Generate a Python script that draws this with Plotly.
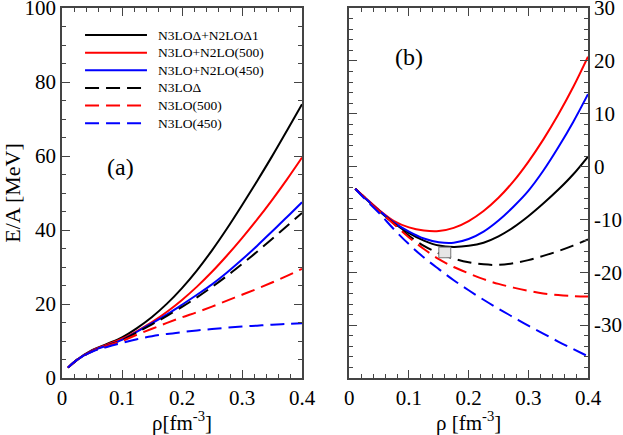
import plotly.graph_objects as go
from plotly.subplots import make_subplots

FONT = "Liberation Serif, Times New Roman, serif"
AXIS_COLOR = "#444"

# density grid [fm^-3]
rho = [0.01, 0.025, 0.05, 0.075, 0.1, 0.125, 0.15, 0.175, 0.2, 0.225,
       0.25, 0.275, 0.3, 0.325, 0.35, 0.375, 0.4]

# (a) pure neutron matter, E/A [MeV]
pnm_d_n2lod1 = [2.8, 4.9, 7.5, 9.2, 11.0, 13.5, 16.5, 20.1, 24.3, 29.1, 34.5, 40.4, 46.7, 53.2, 59.9, 66.9, 74.0]
pnm_n3lo500_n2lo = [2.8, 4.9, 7.4, 9.0, 10.6, 12.7, 15.1, 17.9, 21.1, 24.7, 28.7, 33.1, 37.8, 42.8, 48.1, 53.7, 59.6]
pnm_n3lo450_n2lo = [2.8, 4.9, 7.3, 8.8, 10.3, 12.5, 14.8, 17.2, 19.8, 22.5, 25.3, 28.5, 32.0, 35.7, 39.6, 43.5, 47.5]
pnm_d = [2.8, 4.9, 7.2, 8.7, 10.2, 12.3, 14.5, 16.8, 19.2, 21.8, 24.6, 27.6, 30.8, 34.1, 37.6, 41.1, 44.6]
pnm_n3lo500 = [2.8, 4.9, 7.2, 8.7, 10.0, 11.7, 13.3, 14.9, 16.4, 17.8, 19.3, 20.9, 22.5, 24.1, 25.8, 27.6, 29.5]
pnm_n3lo450 = [2.8, 4.9, 7.1, 8.4, 9.5, 10.5, 11.3, 11.9, 12.4, 12.85, 13.25, 13.6, 13.9, 14.15, 14.4, 14.6, 14.8]

# (b) symmetric nuclear matter, E/A [MeV]
snm_d_n2lod1 = [-4.2, -5.8, -8.4, -10.7, -12.6, -14.0, -14.95, -15.2, -15.0, -14.4, -13.2, -11.5, -9.4, -7.0, -4.4, -1.5, 1.9]
snm_n3lo500_n2lo = [-4.2, -5.7, -8.2, -10.3, -11.5, -12.1, -12.2, -11.6, -10.3, -8.4, -5.9, -2.8, 0.9, 5.1, 9.8, 15.0, 20.8]
snm_n3lo450_n2lo = [-4.2, -5.8, -8.3, -10.6, -12.3, -13.6, -14.3, -14.4, -13.7, -12.3, -10.2, -7.6, -4.6, -0.8, 3.6, 8.4, 13.7]
snm_d = [-4.2, -5.8, -8.4, -10.8, -13.1, -15.0, -16.4, -17.4, -18.1, -18.5, -18.6, -18.3, -17.7, -16.9, -16.0, -14.95, -13.8]
snm_n3lo500 = [-4.2, -5.8, -8.4, -10.9, -13.4, -15.6, -17.5, -19.0, -20.2, -21.3, -22.2, -22.9, -23.5, -24.0, -24.3, -24.5, -24.6]
snm_n3lo450 = [-4.2, -6.0, -8.8, -11.9, -14.7, -17.2, -19.4, -21.5, -23.4, -25.2, -26.9, -28.5, -30.1, -31.6, -33.1, -34.5, -35.9]

# empirical saturation region
rho_sat, rho_sat_err = 0.16, 0.01
e_sat, e_sat_err = -16.25, 1.0

names = ["N3LOΔ+N2LOΔ1", "N3LO+N2LO(500)", "N3LO+N2LO(450)",
         "N3LOΔ", "N3LO(500)", "N3LO(450)"]
colors = ["black", "#ff0000", "#0000ff", "black", "#ff0000", "#0000ff"]
dashes = ["solid", "solid", "solid", "14px,7px", "14px,7px", "14px,7px"]

pnm = [pnm_d_n2lod1, pnm_n3lo500_n2lo, pnm_n3lo450_n2lo, pnm_d, pnm_n3lo500, pnm_n3lo450]
snm = [snm_d_n2lod1, snm_n3lo500_n2lo, snm_n3lo450_n2lo, snm_d, snm_n3lo500, snm_n3lo450]

x_ticks = [0, 0.1, 0.2, 0.3, 0.4]
x_ticktext = ["0", "0.1", "0.2", "0.3", "0.4"]
ya_ticks = [0, 20, 40, 60, 80, 100]
yb_ticks = [-30, -20, -10, 0, 10, 20, 30]
yb_ticktext = ["-30", "-20", "-10", "0", "10", "20", "30"]

fig = make_subplots(rows=1, cols=2, horizontal_spacing=0.09)

for i, name in enumerate(names):
    line = dict(color=colors[i], width=2, dash=dashes[i], shape="spline")
    fig.add_trace(go.Scatter(x=rho, y=pnm[i], mode="lines", name=name, line=line,
                             showlegend=False), row=1, col=1)
    fig.add_trace(go.Scatter(x=rho, y=snm[i], mode="lines", name=name, line=line,
                             showlegend=False), row=1, col=2)

fig.add_shape(type="rect", xref="x2", yref="y2",
              x0=rho_sat - rho_sat_err, x1=rho_sat + rho_sat_err,
              y0=e_sat - e_sat_err, y1=e_sat + e_sat_err,
              fillcolor="#e6e6e6", line=dict(color="#777", width=1), layer="above")

# legend drawn by hand inside panel (a), xmgrace style
leg_top, leg_step = 0.927, 0.0477
annotations = []
for i, name in enumerate(names):
    yy = leg_top - i * leg_step
    fig.add_shape(type="line", xref="x domain", yref="y domain",
                  x0=0.096, x1=0.354, y0=yy, y1=yy,
                  line=dict(color=colors[i], width=2, dash=dashes[i]))
    annotations.append(dict(text=name, xref="x domain", yref="y domain", x=0.39, y=yy,
                            xanchor="left", yanchor="middle", showarrow=False,
                            font=dict(family=FONT, size=13.5, color="black")))

annotations += [
    dict(text="(a)", x=0.098, y=57, xref="x", yref="y", showarrow=False,
         font=dict(family=FONT, size=24)),
    dict(text="(b)", x=0.1, y=20.7, xref="x2", yref="y2", showarrow=False,
         font=dict(family=FONT, size=24)),
]

axis_common = dict(showline=True, linecolor=AXIS_COLOR, linewidth=1.5, mirror="allticks",
                   ticks="inside", ticklen=8, tickwidth=1.2, tickcolor=AXIS_COLOR,
                   showgrid=False, zeroline=False, automargin=False,
                   ticklabeloverflow="allow",
                   tickfont=dict(family=FONT, size=21, color="black"))

xa = dict(axis_common, range=[0, 0.4], tickmode="array", tickvals=x_ticks, ticktext=x_ticktext,
          minor=dict(dtick=0.02, tick0=0, ticks="inside", ticklen=4, tickcolor=AXIS_COLOR))
fig.update_xaxes(xa, row=1, col=1)
fig.update_xaxes(xa, row=1, col=2)
fig.update_xaxes(title=dict(text="ρ[fm<sup>-3</sup>]", font=dict(family=FONT, size=21), standoff=2),
                 row=1, col=1)
fig.update_xaxes(title=dict(text="ρ [fm<sup>-3</sup>]", font=dict(family=FONT, size=21), standoff=2),
                 row=1, col=2)

fig.update_yaxes(axis_common, range=[0, 100], tickmode="array", tickvals=ya_ticks,
                 minor=dict(dtick=5, tick0=0, ticks="inside", ticklen=4, tickcolor=AXIS_COLOR),
                 title=dict(text="E/A [MeV]", font=dict(family=FONT, size=22), standoff=2),
                 row=1, col=1)
fig.update_yaxes(axis_common, range=[-40, 30], tickmode="array", tickvals=yb_ticks,
                 ticktext=yb_ticktext, side="right",
                 minor=dict(dtick=2, tick0=0, ticks="inside", ticklen=4, tickcolor=AXIS_COLOR),
                 row=1, col=2)

fig.update_layout(
    width=623, height=435,
    margin=dict(l=62, r=35, t=8, b=57),
    plot_bgcolor="white", paper_bgcolor="white",
    font=dict(family=FONT, color="black"),
    xaxis=dict(domain=[0, 0.4563]),
    xaxis2=dict(domain=[0.5462, 1]),
    showlegend=False,
    annotations=annotations,
)

fig.write_html("out.html", config={"displayModeBar": False},
               post_script="document.body.style.margin='0';")
